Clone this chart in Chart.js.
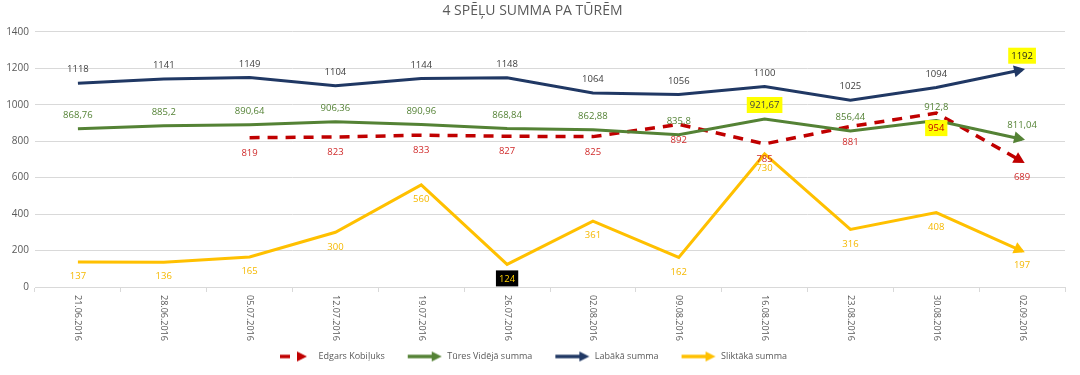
<!DOCTYPE html>
<html>
<head>
<meta charset="utf-8">
<script src="https://cdn.jsdelivr.net/npm/chart.js@4/dist/chart.umd.min.js"></script>
<style>
html,body{margin:0;padding:0;background:#fff;}
#wrap{width:1080px;height:375px;position:relative;}
</style>
</head>
<body>
<div id="wrap"><canvas id="c" width="1080" height="375"></canvas></div>
<script>
const categories = ['21.06.2016','28.06.2016','05.07.2016','12.07.2016','19.07.2016','26.07.2016','02.08.2016','09.08.2016','16.08.2016','23.08.2016','30.08.2016','02.09.2016'];
const edgarsKobiluks = [null,null,819,823,833,827,825,892,785,881,954,689];
const turesVideja = [868.76,885.2,890.64,906.36,890.96,868.84,862.88,835.8,921.67,856.44,912.8,811.04];
const labakaSumma = [1118,1141,1149,1104,1144,1148,1064,1056,1100,1025,1094,1192];
const sliktakaSumma = [137,136,165,300,560,124,361,162,730,316,408,197];
const yMin = 0, yMax = 1400, yStep = 200;
const seriesNames = ['Edgars Kobiļuks','Tūres Vidējā summa','Labākā summa','Sliktākā summa'];

const RED='#c00000', GREEN='#548235', NAVY='#203864', YELLOW='#ffc000';
const FONT='"Open Sans", "DejaVu Sans", sans-serif';

function fmt(v){ return String(v).replace('.', ','); }

function legendIcon(color, dashed){
  const c=document.createElement('canvas'); c.width=36; c.height=12;
  const x=c.getContext('2d');
  x.strokeStyle=color; x.fillStyle=color; x.lineWidth=3.5;
  if(dashed){
    x.beginPath(); x.moveTo(2,6); x.lineTo(12,6); x.stroke();
    x.beginPath(); x.moveTo(19,1); x.lineTo(29,6); x.lineTo(19,11); x.closePath(); x.fill();
  } else {
    x.beginPath(); x.moveTo(1,6); x.lineTo(26,6); x.stroke();
    x.beginPath(); x.moveTo(25,1); x.lineTo(35,6); x.lineTo(25,11); x.closePath(); x.fill();
  }
  return c;
}

const labelCfg = [
  {color:'#d02a2a', dy: 15, hl:{10:{bg:'#ffff00', fg:'#c00000'}}},
  {color:GREEN, dy:-14, hl:{8:{bg:'#ffff00', fg:'#404040'}}},
  {color:'#404040', dy:-14, hl:{11:{bg:'#ffff00', fg:'#222222'}}},
  {color:'#f5b800', dy: 14, hl:{5:{bg:'#000000', fg:'#ffd000'}}}
];

const overlayPlugin = {
  id:'overlay',
  afterDatasetsDraw(chart){
    const ctx=chart.ctx;
    chart.data.datasets.forEach((ds,di)=>{
      const meta=chart.getDatasetMeta(di);
      const pts=meta.data;
      let last=pts.length-1;
      while(last>0 && ds.data[last]==null) last--;
      const p=pts[last], q=pts[last-1];
      const ang=Math.atan2(p.y-q.y,p.x-q.x);
      const L=11, W=6;
      ctx.save();
      ctx.translate(p.x,p.y); ctx.rotate(ang);
      ctx.fillStyle=ds.borderColor;
      ctx.beginPath(); ctx.moveTo(3,0); ctx.lineTo(3-L,-W); ctx.lineTo(3-L,W); ctx.closePath(); ctx.fill();
      ctx.restore();
    });
    ctx.save();
    ctx.font='9.5px '+FONT;
    ctx.textAlign='center'; ctx.textBaseline='middle';
    chart.data.datasets.forEach((ds,di)=>{
      const meta=chart.getDatasetMeta(di);
      const cfg=labelCfg[di];
      ds.data.forEach((v,i)=>{
        if(v==null) return;
        const p=meta.data[i];
        const t=fmt(v);
        const x=p.x, y=p.y+cfg.dy;
        const h=cfg.hl[i];
        if(h){
          const w=ctx.measureText(t).width;
          ctx.fillStyle=h.bg;
          ctx.fillRect(x-w/2-3, y-8, w+6, 16);
          ctx.fillStyle=h.fg;
        } else ctx.fillStyle=cfg.color;
        ctx.fillText(t,x,y+0.5);
      });
    });
    ctx.restore();
  },
  afterDraw(chart){
    const xs=chart.scales.x, ctx=chart.ctx;
    ctx.save();
    ctx.font='9px '+FONT; ctx.fillStyle='#595959';
    ctx.textAlign='left'; ctx.textBaseline='middle';
    xs.ticks.forEach((tk,i)=>{
      const x=xs.getPixelForTick(i);
      ctx.save();
      ctx.translate(x, chart.chartArea.bottom+8);
      ctx.rotate(Math.PI/2);
      ctx.fillText(xs.getLabelForValue(tk.value),0,0);
      ctx.restore();
    });
    ctx.restore();
  }
};

const series = [edgarsKobiluks, turesVideja, labakaSumma, sliktakaSumma];
const colors = [RED, GREEN, NAVY, YELLOW];
const orders = [4,3,2,1];
const datasets = series.map((d,i)=>({
  label: seriesNames[i],
  data: d,
  borderColor: colors[i],
  backgroundColor: colors[i],
  borderWidth: i===0?3.5:3,
  borderDash: i===0?[10,8]:[],
  pointRadius:0,
  tension:0,
  fill:false,
  spanGaps:false,
  order: orders[i]
}));

new Chart(document.getElementById('c'),{
  type:'line',
  data:{labels:categories, datasets},
  plugins:[overlayPlugin],
  options:{
    responsive:false,
    animation:false,
    devicePixelRatio:1,
    layout:{padding:{left:0,right:15,top:0,bottom:4}},
    plugins:{
      tooltip:{enabled:false},
      title:{display:true,text:'4 SPĒĻU SUMMA PA TŪRĒM',color:'#595959',
        font:{family:FONT,size:14,weight:'normal'},padding:{top:3,bottom:12}},
      legend:{position:'bottom',
        labels:{
          usePointStyle:true, pointStyleWidth:36, boxHeight:12,
          font:{family:FONT,size:9}, color:'#595959', padding:22,
          generateLabels(chart){
            return chart.data.datasets.map((ds,i)=>({
              text:ds.label, pointStyle:legendIcon(ds.borderColor, i===0),
              fillStyle:ds.borderColor, strokeStyle:ds.borderColor, lineWidth:0,
              hidden:false, datasetIndex:i, fontColor:'#595959'
            }));
          }
        }}
    },
    scales:{
      x:{
        offset:true,
        grid:{offset:true, drawOnChartArea:false, drawTicks:true, tickLength:5, color:'#d9d9d9'},
        border:{display:true,color:'#d9d9d9'},
        ticks:{display:false},
        afterFit(s){ s.height=43; }
      },
      y:{
        min:yMin,max:yMax,
        ticks:{stepSize:yStep,color:'#595959',font:{family:FONT,size:10},padding:6,
          callback:(v)=>String(v)},
        grid:{color:'#d9d9d9',drawTicks:false},
        border:{display:false},
        afterFit(s){ s.width=35; }
      }
    }
  }
});
</script>
</body>
</html>
